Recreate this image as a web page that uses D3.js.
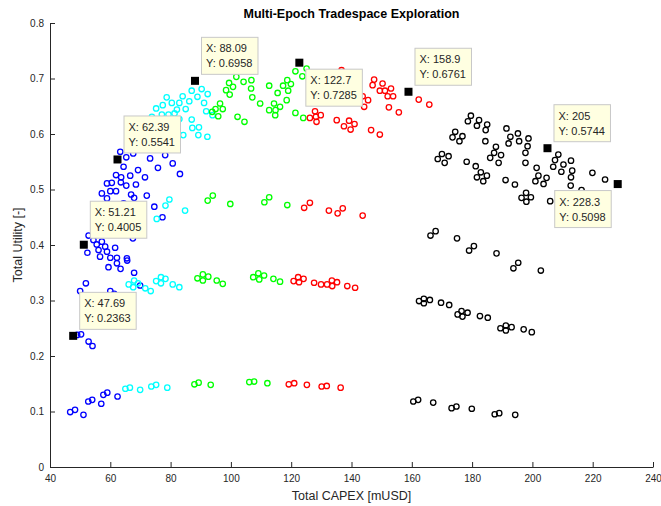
<!DOCTYPE html>
<html><head><meta charset="utf-8">
<script src="https://cdn.jsdelivr.net/npm/d3@7"></script>
<style>
body{margin:0;background:#fff}
svg{display:block}
text{font-family:"Liberation Sans",Arial,Helvetica,sans-serif}
</style>
</head><body>
<svg id="chart" width="661" height="506"></svg>
<script>
const xTicks = [40,60,80,100,120,140,160,180,200,220,240];
const xTickLabels = ["40","60","80","100","120","140","160","180","200","220","240"];
const yTicks = [0,0.1,0.2,0.3,0.4,0.5,0.6,0.7,0.8];
const yTickLabels = ["0","0.1","0.2","0.3","0.4","0.5","0.6","0.7","0.8"];

const blueCapex = [63.3,65.3,67.6,73.2,75.8,78.2,80.7,83.1,64.4,69.2,61.9,63.6,66.6,71.5,58.9,60.5,63.5,65.3,68.5,57.2,60.0,61.9,66.9,67.9,72.1,58.9,64.4,74.6,77.3,
52.8,54.4,55.5,57.2,58.3,56.1,58.9,61.6,60.0,62.2,65.5,56.6,59.4,62.2,63.4,65.6,67.9,69.9,51.9,50.0,60.0,61.3,67.5,52.4,
49.0,50.3,52.8,54.1,
46.7,48.3,51.1,52.7,54.0,57.0,57.7,59.0,62.4];
const blueUtility = [0.568,0.558,0.565,0.556,0.539,0.562,0.547,0.528,0.541,0.535,0.526,0.522,0.525,0.522,0.511,0.512,0.513,0.507,0.509,0.493,0.497,0.497,0.491,0.485,0.489,0.484,0.475,0.469,0.450,
0.417,0.409,0.401,0.406,0.397,0.391,0.388,0.395,0.377,0.377,0.376,0.379,0.360,0.367,0.357,0.372,0.350,0.327,0.331,0.317,0.317,0.312,0.412,0.386,
0.238,0.239,0.226,0.218,
0.099,0.103,0.094,0.118,0.121,0.114,0.130,0.134,0.127];

const cyanCapex = [73.8,75.2,77.4,77.1,78.7,80.4,79.3,81.3,82.9,82.1,84.0,85.0,86.2,87.0,88.9,90.3,91.1,92.3,91.8,82.9,80.7,84.2,87.0,87.2,89.4,89.2,92.2,93.9,
78.3,79.6,75.4,84.8,
66.1,67.6,67.9,69.2,71.6,73.4,75.2,76.8,76.8,78.3,80.7,82.9,
65.0,66.5,69.9,73.6,75.2,78.9];
const cyanUtility = [0.631,0.646,0.652,0.635,0.666,0.656,0.635,0.637,0.656,0.644,0.668,0.645,0.659,0.678,0.667,0.681,0.656,0.672,0.641,0.627,0.622,0.598,0.626,0.611,0.612,0.598,0.595,0.634,
0.471,0.482,0.447,0.462,
0.329,0.324,0.336,0.331,0.322,0.317,0.335,0.342,0.331,0.339,0.329,0.324,
0.141,0.143,0.139,0.145,0.148,0.143];

const greenCapex = [93.8,95.8,94.9,97.3,96.4,99.4,100.7,98.4,99.6,101.8,104.2,106.8,106.7,107.1,109.7,102.2,104.5,112.7,115.5,117.3,118.7,119.9,119.0,118.5,116.3,114.3,112.7,114.8,114.7,121.4,124.0,121.4,125.1,123.7,
92.3,94.0,99.8,111.1,112.7,118.7,
90.7,90.7,92.5,88.9,95.3,97.3,107.4,109.1,109.4,111.0,114.1,116.3,
87.9,89.3,93.3,106.1,107.7,112.1];
const greenUtility = [0.640,0.632,0.645,0.645,0.655,0.692,0.685,0.679,0.671,0.703,0.694,0.697,0.682,0.666,0.655,0.631,0.622,0.687,0.674,0.687,0.697,0.690,0.678,0.661,0.649,0.655,0.643,0.643,0.634,0.638,0.629,0.713,0.718,0.704,
0.480,0.489,0.474,0.477,0.486,0.472,
0.347,0.336,0.343,0.340,0.336,0.330,0.342,0.349,0.338,0.345,0.339,0.334,
0.149,0.152,0.148,0.153,0.154,0.151];

const redCapex = [136.7,143.7,145.5,144.2,147.5,147.0,150.3,149.4,151.1,153.1,152.0,153.8,152.4,155.7,127.9,129.8,126.2,128.2,128.4,135.1,137.5,139.2,139.7,141.0,146.5,149.4,162.3,165.8,
124.3,126.2,132.5,135.4,137.1,143.7,
120.8,122.3,122.6,124.1,127.6,129.9,131.9,133.5,133.6,135.2,138.6,141.2,
119.2,121.0,125.2,130.1,131.8,136.4];
const redUtility = [0.715,0.668,0.661,0.649,0.698,0.688,0.691,0.678,0.678,0.682,0.668,0.668,0.648,0.639,0.641,0.634,0.629,0.631,0.622,0.625,0.614,0.624,0.608,0.618,0.607,0.599,0.662,0.653,
0.467,0.476,0.462,0.457,0.466,0.453,
0.335,0.342,0.333,0.339,0.332,0.329,0.329,0.336,0.326,0.333,0.326,0.323,
0.149,0.151,0.148,0.145,0.146,0.143];

const blackCapex = [179.6,178.6,182.3,181.6,185.0,184.5,174.4,173.5,176.8,175.8,191.4,192.7,195.2,192.1,195.6,198.7,198.4,184.4,187.9,187.3,189.6,186.0,188.8,197.7,197.7,170.0,172.2,168.6,170.9,178.2,181.2,182.9,184.9,181.6,183.7,191.1,194.2,201.4,202.0,204.7,201.0,203.7,197.9,196.4,199.5,198.0,205.9,208.6,207.5,206.9,210.3,212.8,209.6,213.2,212.8,212.7,216.3,219.9,224.1,
166.2,167.9,175.0,179.0,180.6,188.1,193.7,195.3,202.8,
162.4,164.0,164.0,166.0,169.7,172.4,175.2,176.5,176.8,178.5,182.6,185.2,189.4,191.2,191.2,193.1,197.1,199.8,
160.5,162.1,167.1,173.2,174.8,179.9,187.5,189.0,194.3];
const blackUtility = [0.633,0.623,0.625,0.615,0.617,0.607,0.604,0.594,0.596,0.587,0.610,0.595,0.601,0.583,0.587,0.592,0.578,0.587,0.577,0.566,0.562,0.557,0.548,0.566,0.548,0.564,0.560,0.555,0.548,0.550,0.542,0.531,0.525,0.522,0.515,0.517,0.509,0.539,0.525,0.521,0.515,0.510,0.494,0.485,0.486,0.478,0.479,0.563,0.553,0.541,0.545,0.552,0.532,0.534,0.522,0.507,0.499,0.530,0.518,
0.417,0.425,0.412,0.390,0.398,0.385,0.358,0.368,0.354,
0.299,0.303,0.295,0.301,0.296,0.292,0.275,0.281,0.271,0.278,0.272,0.269,0.250,0.255,0.246,0.252,0.248,0.243,
0.118,0.121,0.116,0.106,0.109,0.105,0.095,0.097,0.094];

const seriesNames = ["blue","cyan","green","red","black"];
const seriesColors = ["#0000ff","#00ffff","#00ff00","#ff0000","#000000"];
const seriesCapex = [blueCapex, cyanCapex, greenCapex, redCapex, blackCapex];
const seriesUtility = [blueUtility, cyanUtility, greenUtility, redUtility, blackUtility];

const tipCapex = [47.69, 51.21, 62.39, 88.09, 122.7, 158.9, 205, 228.3];
const tipUtility = [0.2363, 0.4005, 0.5541, 0.6958, 0.7285, 0.6761, 0.5744, 0.5098];
const tipXText = ["47.69","51.21","62.39","88.09","122.7","158.9","205","228.3"];
const tipYText = ["0.2363","0.4005","0.5541","0.6958","0.7285","0.6761","0.5744","0.5098"];
const tipSide = ["ne","ne","ne","ne","se","ne","ne","sw"];

const svg = d3.select("#chart");
const W = 661, H = 506;
const m = {left: 50, right: 8, top: 23, bottom: 39};
const x = d3.scaleLinear().domain([40,240]).range([m.left, W - m.right]);
const y = d3.scaleLinear().domain([0,0.8]).range([H - m.bottom, m.top]);
const axisColor = "#262626";

// axes
const gx = svg.append("g").attr("transform", `translate(0,${H - m.bottom})`)
  .call(d3.axisBottom(x).tickValues(xTicks).tickFormat((d,i)=>xTickLabels[i])
        .tickSizeInner(-5).tickSizeOuter(0).tickPadding(8));
const gy = svg.append("g").attr("transform", `translate(${m.left},0)`)
  .call(d3.axisLeft(y).tickValues(yTicks).tickFormat((d,i)=>yTickLabels[i])
        .tickSizeInner(-5).tickSizeOuter(0).tickPadding(6));
[gx, gy].forEach(g => {
  g.selectAll("path.domain").attr("stroke", axisColor).attr("stroke-width", 1);
  g.selectAll(".tick line").attr("stroke", axisColor).attr("stroke-width", 1);
  g.selectAll(".tick text").attr("fill", axisColor).style("font-size", "10px")
   .style("font-family", '"Liberation Sans", Arial, sans-serif');
});

// title and labels
svg.append("text").attr("x", (m.left + W - m.right)/2).attr("y", 18)
  .attr("text-anchor", "middle").attr("font-weight", "bold").attr("font-size", "12.5px")
  .attr("fill", "#000").text("Multi-Epoch Tradespace Exploration");
svg.append("text").attr("x", (m.left + W - m.right)/2).attr("y", 500)
  .attr("text-anchor", "middle").attr("font-size", "12.5px").attr("fill", axisColor)
  .text("Total CAPEX [mUSD]");
svg.append("text").attr("transform", `translate(22,${(m.top + H - m.bottom)/2}) rotate(-90)`)
  .attr("text-anchor", "middle").attr("font-size", "12.5px").attr("fill", axisColor)
  .text("Total Utility [-]");

// scatter series
seriesNames.forEach((name, si) => {
  const pts = seriesCapex[si].map((c, i) => ({c, u: seriesUtility[si][i]}));
  svg.append("g").attr("class", "series-" + name)
    .selectAll("circle").data(pts).enter().append("circle")
    .attr("cx", d => x(d.c)).attr("cy", d => y(d.u)).attr("r", 2.7)
    .attr("fill", "none").attr("stroke", seriesColors[si]).attr("stroke-width", 1.3);
});

// data tips
const tips = tipCapex.map((c, i) => ({c, u: tipUtility[i], xt: "X: " + tipXText[i], yt: "Y: " + tipYText[i], side: tipSide[i]}));
const tg = svg.append("g").attr("class", "datatips");
tips.forEach(t => {
  const px = x(t.c), py = y(t.u);
  const g = tg.append("g");
  const rect = g.append("rect");
  const t1 = g.append("text").attr("font-size", "11px").attr("fill", "#262626").text(t.xt);
  const t2 = g.append("text").attr("font-size", "11px").attr("fill", "#262626").text(t.yt);
  const tw = Math.max(t1.node().getComputedTextLength(), t2.node().getComputedTextLength());
  const bw = tw + 10, bh = 37, off = 6.5;
  let bx, by;
  if (t.side === "ne") { bx = px + off; by = py - off - bh; }
  else if (t.side === "se") { bx = px + off; by = py + off; }
  else { bx = px - off - bw; by = py + off; }
  rect.attr("x", bx).attr("y", by).attr("width", bw).attr("height", bh)
    .attr("fill", "#ffffe1").attr("stroke", "#c8c8c8").attr("stroke-width", 1);
  t1.attr("x", bx + 4.5).attr("y", by + 15);
  t2.attr("x", bx + 4.5).attr("y", by + 30);
  g.append("rect").attr("x", px - 4).attr("y", py - 4).attr("width", 8).attr("height", 8).attr("fill", "#000");
});
</script>
</body></html>
